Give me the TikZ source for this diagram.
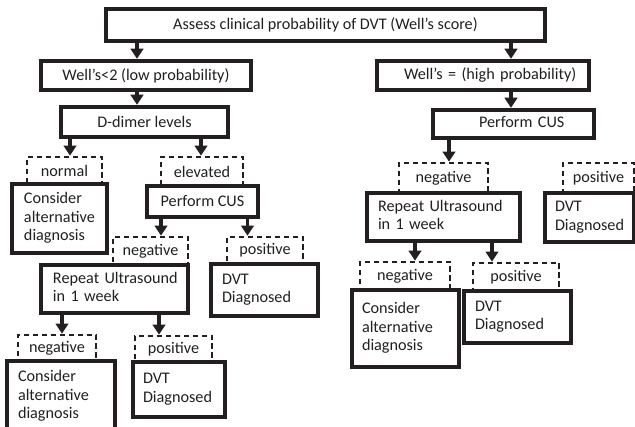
\documentclass[tikz,border=0pt]{standalone}
\usepackage{fontspec}
\setmainfont{Carlito}
\usetikzlibrary{arrows.meta}
\definecolor{ink}{HTML}{231F20}
\newcommand{\tb}[2]{\mbox{\hspace*{#1}\begin{tabular}{@{}l@{}}#2\end{tabular}}}
\tikzset{
  sbox/.style={draw=ink, line width=4.5pt, fill=white, inner xsep=0pt, inner ysep=0pt, align=left, text=ink},
  cbox/.style={draw=ink, line width=4.5pt, fill=white, inner sep=0pt, align=center, text=ink},
  dbox/.style={draw=ink, line width=2.7pt, dash pattern=on 5.5pt off 3.5pt, inner sep=0pt, text=ink},
  arr/.style={draw=ink, line width=3.6pt, -{Triangle[width=12.5pt,length=10pt]}},
}
\begin{document}
\begin{tikzpicture}[x=1pt,y=-1pt,font=\fontsize{16.2}{18.5}\selectfont]
\useasboundingbox (0,0) rectangle (635,427);
\fill[white] (0,0) rectangle (635,427);
\clip (0,0) rectangle (635,427);
% dashed label boxes
\node[dbox, minimum width=75pt, minimum height=27pt] (nrm) at (64.5,170.5) {normal};
\node[dbox, minimum width=82pt, minimum height=29pt] (elv) at (202,171.5) {elevated};
\node[dbox, minimum width=75pt, minimum height=28pt] (negM) at (150.5,251) {negative};
\node[dbox, minimum width=76pt, minimum height=27pt] (posM) at (265,250.5) {positive};
\node[dbox, minimum width=78pt, minimum height=26pt] (negL) at (57,348) {negative};
\node[dbox, minimum width=77pt, minimum height=26pt] (posL) at (173.5,349) {positive};
\node[dbox, minimum width=89pt, minimum height=30pt] (negR) at (443.5,178) {negative};
\node[dbox, minimum width=71pt, minimum height=30pt] (posR) at (598.5,178) {positive};
\node[dbox, minimum width=90pt, minimum height=28pt] (negRR) at (405,276) {negative};
\node[dbox, minimum width=86pt, minimum height=28pt] (posRR) at (516,277) {positive};
% solid boxes
\node[cbox, minimum width=439pt, minimum height=32pt] (top) at (325.5,25) {Assess clinical probability of DVT (Well’s score)};
\node[cbox, minimum width=210pt, minimum height=29pt] (wl) at (146,75.5) {Well’s<2 (low probability)};
\node[sbox, text width=212pt, minimum height=29pt] (wh) at (483,75.5) {\tb{27pt}{Well’s = (high probability)}};
\node[cbox, minimum width=167pt, minimum height=30pt] (dd) at (144.5,122) {D-dimer levels};
\node[sbox, text width=161pt, minimum height=28pt] (pr) at (513.5,124) {\tb{46pt}{Perform CUS}};
\node[sbox, text width=95pt, minimum height=69pt] (c1) at (59.5,218.5) {\tb{12pt}{Consider\\alternative\\diagnosis}};
\node[cbox, minimum width=111pt, minimum height=31pt] (pl) at (202.5,201.5) {Perform CUS};
\node[sbox, text width=147pt, minimum height=48pt] (rl) at (114.5,289) {\tb{12pt}{Repeat Ultrasound\\in 1 week}};
\node[sbox, text width=107pt, minimum height=52pt] (dm) at (264.5,290) {\tb{11pt}{DVT\\Diagnosed}};
\node[sbox, text width=108pt, minimum height=71pt] (c2) at (61,396.5) {\tb{11pt}{Consider\\alternative\\diagnosis}};
\node[sbox, text width=92pt, minimum height=55pt] (dl) at (179,389.5) {\tb{10pt}{DVT\\Diagnosed}};
\node[sbox, text width=153pt, minimum height=48pt] (rr) at (443.5,217) {\tb{11pt}{Repeat Ultrasound\\in 1 week}};
\node[sbox, text width=89pt, minimum height=49pt] (dr) at (589.5,217.5) {\tb{10pt}{DVT\\Diagnosed}};
\node[sbox, text width=107pt, minimum height=77pt] (c3) at (405.5,328.5) {\tb{10pt}{Consider\\alternative\\diagnosis}};
\node[sbox, text width=107pt, minimum height=52pt] (dr2) at (517.5,317) {\tb{11pt}{DVT\\Diagnosed}};
% arrows
\draw[arr] ([xshift=-9pt]wl.north |- top.south) -- ([xshift=-9pt]wl.north);
\draw[arr] ([xshift=28pt]wh.north |- top.south) -- ([xshift=28pt]wh.north);
\draw[arr] ([xshift=-7.5pt]dd.north |- wl.south) -- ([xshift=-7.5pt]dd.north);
\draw[arr] ([xshift=-2.5pt]pr.north |- wh.south) -- ([xshift=-2.5pt]pr.north);
\draw[arr] ([xshift=5.5pt]nrm.north |- dd.south) -- ([xshift=5.5pt]nrm.north);
\draw[arr] ([xshift=-1pt]elv.north |- dd.south) -- ([xshift=-1pt]elv.north);
\draw[arr] ([xshift=10.5pt]negM.north |- pl.south) -- ([xshift=10.5pt]negM.north);
\draw[arr] ([xshift=-17.5pt]posM.north |- pl.south) -- ([xshift=-17.5pt]posM.north);
\draw[arr] ([xshift=5pt]negL.north |- rl.south) -- ([xshift=5pt]negL.north);
\draw[arr] ([xshift=-14.5pt]posL.north |- rl.south) -- ([xshift=-14.5pt]posL.north);
\draw[arr] ([xshift=5.5pt]negR.north |- pr.south) -- ([xshift=5.5pt]negR.north);
\draw[arr] ([xshift=10pt]negRR.north |- rr.south) -- ([xshift=10pt]negRR.north);
\draw[arr] ([xshift=-24pt]posRR.north |- rr.south) -- ([xshift=-24pt]posRR.north);
\end{tikzpicture}
\end{document}
